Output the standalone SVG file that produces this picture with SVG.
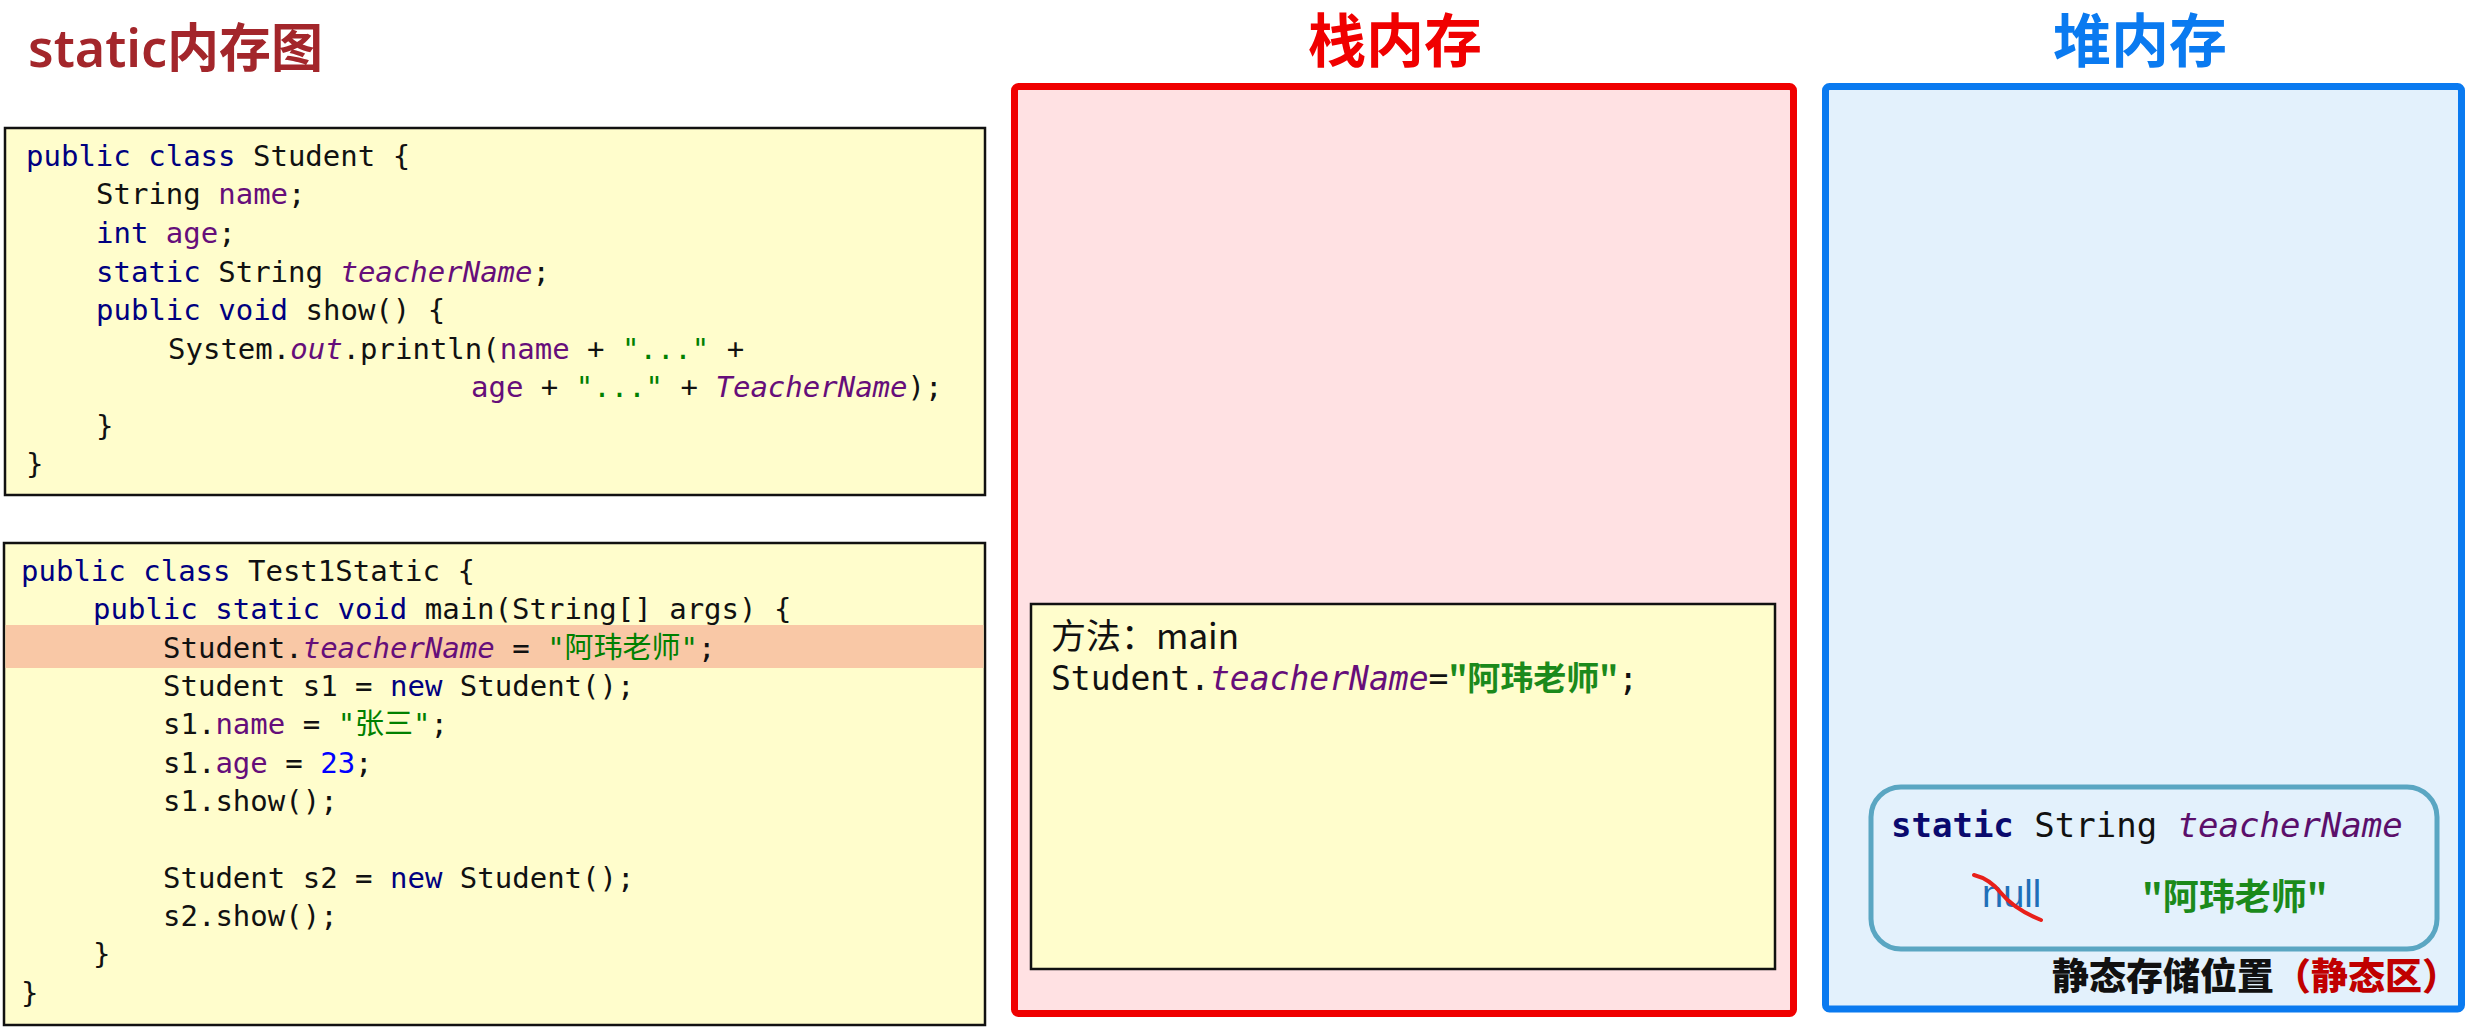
<svg xmlns="http://www.w3.org/2000/svg" width="2465" height="1029" viewBox="0 0 2465 1029">
<style>
.code{font-family:"DejaVu Sans Mono","Noto Sans CJK SC",monospace;font-size:29px;fill:#111111;}
.kw{fill:#000080;}
.fd{fill:#660E7A;}
.it{font-style:italic;}
.st{fill:#008000;}
.nm{fill:#0000FF;}
.codebox{fill:#FFFDCC;stroke:#111111;stroke-width:2.5;}
.title{font-family:"Noto Sans CJK SC","Noto Sans",sans-serif;font-weight:700;font-size:58px;text-anchor:middle;}
</style>
<rect x="0" y="0" width="2465" height="1029" fill="#FFFFFF"/>

<g id="page-title">
<text x="28" y="67" font-family="'Noto Sans','Noto Sans CJK SC',sans-serif" font-size="52" font-weight="600" fill="#A3262B">static内存图</text>
</g>

<g id="student-class">
<rect class="codebox" x="5" y="128" width="980" height="367"/>
<text class="code" xml:space="preserve" y="166"><tspan x="26" class="kw">public class</tspan> Student {</text>
<text class="code" xml:space="preserve" y="204"><tspan x="96">String </tspan><tspan class="fd">name</tspan>;</text>
<text class="code" xml:space="preserve" y="243"><tspan x="96" class="kw">int</tspan> <tspan class="fd">age</tspan>;</text>
<text class="code" xml:space="preserve" y="282"><tspan x="96" class="kw">static</tspan> String <tspan class="fd it">teacherName</tspan>;</text>
<text class="code" xml:space="preserve" y="320"><tspan x="96" class="kw">public void</tspan> show() {</text>
<text class="code" xml:space="preserve" y="359"><tspan x="168">System.</tspan><tspan class="fd it">out</tspan>.println(<tspan class="fd">name</tspan> + <tspan class="st">"..."</tspan> +</text>
<text class="code" xml:space="preserve" y="397"><tspan x="471" class="fd">age</tspan> + <tspan class="st">"..."</tspan> + <tspan class="fd it">TeacherName</tspan>);</text>
<text class="code" y="436" x="96">}</text>
<text class="code" y="474" x="26">}</text>
</g>

<g id="test-class">
<rect class="codebox" x="4" y="543" width="981" height="482"/>
<rect x="5.5" y="625" width="978" height="43" fill="#F9C8A6"/>
<text class="code" xml:space="preserve" y="581"><tspan x="21" class="kw">public class</tspan> Test1Static {</text>
<text class="code" xml:space="preserve" y="619"><tspan x="93" class="kw">public static void</tspan> main(String[] args) {</text>
<text class="code" xml:space="preserve" y="658"><tspan x="163">Student.</tspan><tspan class="fd it">teacherName</tspan> = <tspan class="st">"阿玮老师"</tspan>;</text>
<text class="code" xml:space="preserve" y="696"><tspan x="163">Student s1 = </tspan><tspan class="kw">new</tspan> Student();</text>
<text class="code" xml:space="preserve" y="734"><tspan x="163">s1.</tspan><tspan class="fd">name</tspan> = <tspan class="st">"张三"</tspan>;</text>
<text class="code" xml:space="preserve" y="773"><tspan x="163">s1.</tspan><tspan class="fd">age</tspan> = <tspan class="nm">23</tspan>;</text>
<text class="code" y="811" x="163">s1.show();</text>
<text class="code" xml:space="preserve" y="888"><tspan x="163">Student s2 = </tspan><tspan class="kw">new</tspan> Student();</text>
<text class="code" y="926" x="163">s2.show();</text>
<text class="code" y="964" x="93">}</text>
<text class="code" y="1003" x="21">}</text>
</g>

<g id="stack-memory">
<text class="title" x="1395" y="62" fill="#F00000">栈内存</text>
<rect x="1014.5" y="86.5" width="779" height="927" rx="4" fill="#FFE1E3" stroke="#F00000" stroke-width="7"/>
</g>

<g id="main-frame">
<rect x="1031" y="604" width="744" height="365" fill="#FFFDCC" stroke="#111111" stroke-width="2.5"/>
<text x="1051" y="649" font-family="'Noto Sans CJK SC','Noto Sans',sans-serif" font-size="35" fill="#111111">方法：main</text>
<text xml:space="preserve" x="1051" y="690" font-family="'DejaVu Sans Mono','Noto Sans CJK SC',monospace" font-size="33" fill="#111111">Student.<tspan class="fd it">teacherName</tspan>=<tspan fill="#1B8A1B" font-weight="700" font-family="'Noto Sans CJK SC',sans-serif">"阿玮老师"</tspan>;</text>
</g>

<g id="heap-memory">
<text class="title" x="2140" y="62" fill="#0A7AF0">堆内存</text>
<rect x="1825.5" y="86.5" width="636" height="922.5" rx="4" fill="#E3F1FC" stroke="#0A7AF0" stroke-width="7"/>
</g>

<g id="static-area">
<rect x="1871" y="787" width="566" height="162" rx="30" fill="#E3F1FC" stroke="#5AA6C2" stroke-width="5"/>
<text xml:space="preserve" x="1891" y="837" font-family="'DejaVu Sans Mono',monospace" font-size="34" fill="#111111"><tspan font-weight="700" fill="#0A0A6E">static</tspan> String <tspan fill="#5B0F6B" font-style="italic">teacherName</tspan></text>
<text x="1982" y="907" font-family="'Liberation Sans','Noto Sans',sans-serif" font-size="38" fill="#1F6FB8">null</text>
<path d="M1974,875 Q1990,879 2001,893 Q2014,909 2041,920" fill="none" stroke="#E8201A" stroke-width="4" stroke-linecap="round"/>
<text x="2142" y="910" font-family="'Noto Sans CJK SC',sans-serif" font-size="36" font-weight="700" fill="#1B8A1B">"阿玮老师"</text>
<text x="2052" y="990" font-family="'Noto Sans CJK SC',sans-serif" font-size="37" font-weight="900" fill="#111111">静态存储位置<tspan fill="#C00000">（静态区）</tspan></text>
</g>

<g id="connectors"></g>
</svg>
